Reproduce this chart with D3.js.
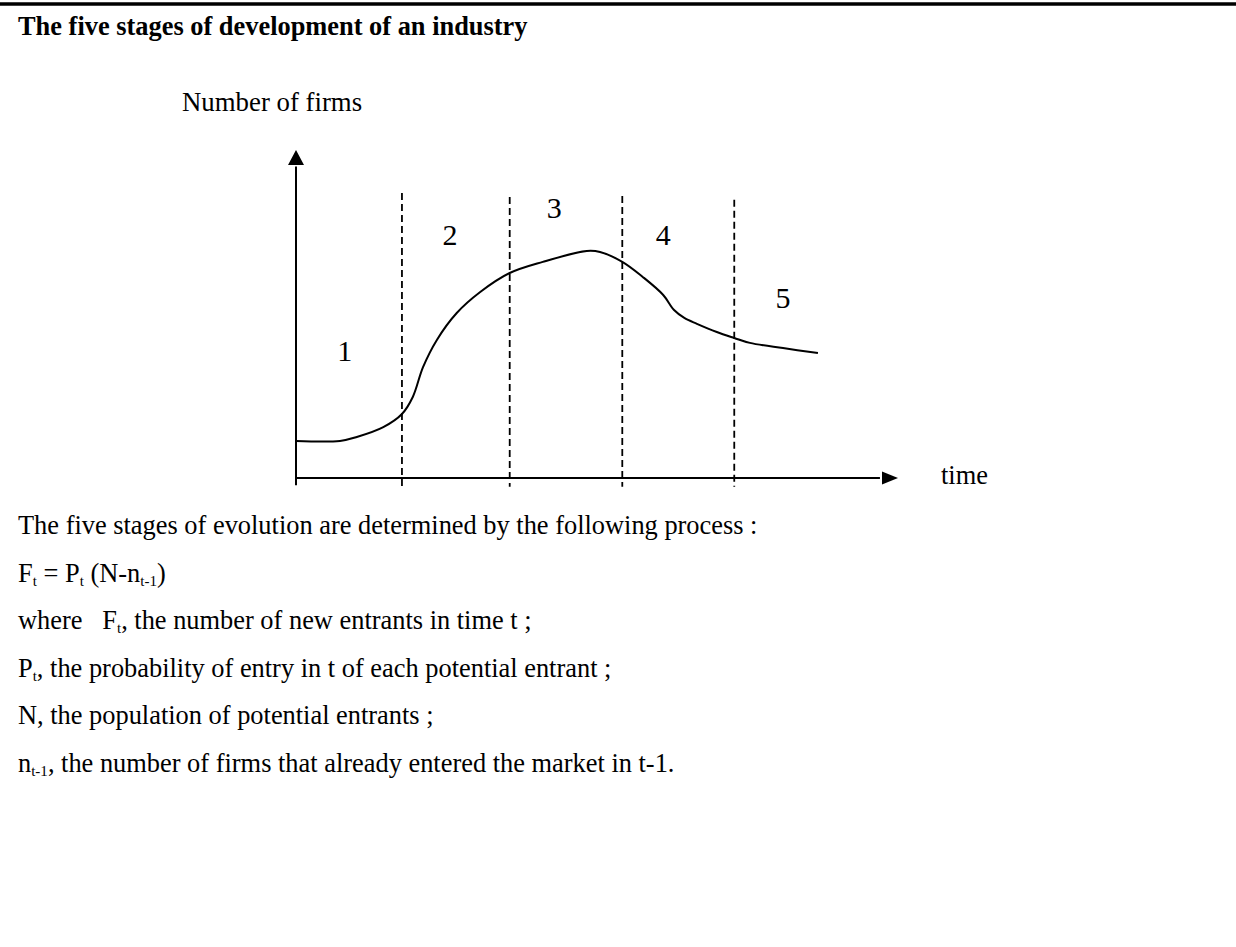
<!DOCTYPE html>
<html>
<head>
<meta charset="utf-8">
<script src="https://cdn.jsdelivr.net/npm/d3@7"></script>
<style>
  body { margin: 0; background: #fff; }
  svg { display: block; font-family: 'Liberation Serif', 'Times New Roman', serif; }
  text { white-space: pre; }
</style>
</head>
<body>
<div class="container"></div>
<script>
/* globals d3 */

// the curve: time (0-100) against number of firms (0-100)
var times = [0, 7.3, 10.1, 14.5, 17.6, 19.4, 21.1, 23.4, 26.7, 30.6, 35.5, 41.0, 48.3, 50.5,
  54.2, 57.6, 61.0, 62.8, 64.5, 66.6, 69.9, 72.8, 75.4, 80.9, 86.7]
var firms = [11.3, 11.3, 12.5, 15.5, 19.5, 24.7, 33.8, 42.1, 50.3, 56.7, 62.5, 65.9, 69.2, 68.9,
  65.9, 61.3, 55.8, 51.2, 48.8, 47.0, 44.5, 42.7, 41.2, 39.6, 38.1]

// borders between stages and the stage numbers
var stageBounds = [17.6, 35.5, 54.2, 72.8]
var boundTops = [86.9, 85.7, 86.0, 84.8]
var stageLabels = ['1', '2', '3', '4', '5']
var labelTimes = [8.1, 25.6, 42.9, 61.0, 80.9]
var labelFirms = [39.0, 74.1, 82.6, 74.1, 54.9]

var title = 'The five stages of development of an industry'
var yLabel = 'Number of firms'
var xLabel = 'time'

// _{..} marks a subscript
var bodyLines = [
  'The five stages of evolution are determined by the following process :',
  'F_{t} = P_{t} (N-n_{t-1})',
  'where   F_{t}, the number of new entrants in time t ;',
  'P_{t}, the probability of entry in t of each potential entrant ;',
  'N, the population of potential entrants ;',
  'n_{t-1}, the number of firms that already entered the market in t-1.'
]

var W = 1236
var H = 947

var svg = d3.select('.container')
            .append('svg')
            .attr('width', W)
            .attr('height', H)

svg.append('rect')
   .attr('width', W)
   .attr('height', H)
   .attr('fill', '#fff')

// heavy rule on top
svg.append('line')
   .attr('x1', 0)
   .attr('x2', W)
   .attr('y1', 4)
   .attr('y2', 4)
   .attr('stroke', '#000')
   .attr('stroke-width', 3.5)

svg.append('text')
   .attr('x', 18)
   .attr('y', 35)
   .attr('font-size', 26.4)
   .attr('font-weight', 'bold')
   .text(title)

var x = d3.scaleLinear().domain([0, 100]).range([296, 898])
var y = d3.scaleLinear().domain([0, 100]).range([478, 150])

var g = svg.append('g')

// axes with arrow heads
g.append('line')
 .attr('x1', x(0)).attr('x2', x(0))
 .attr('y1', y(-2.2)).attr('y2', y(95))
 .attr('stroke', '#000')
 .attr('stroke-width', 2)
g.append('path')
 .attr('d', 'M' + x(0) + ',' + y(100) + 'L' + (x(0) - 8) + ',' + y(95.4) + 'L' + (x(0) + 8) + ',' + y(95.4) + 'Z')
 .attr('fill', '#000')

g.append('line')
 .attr('x1', x(0)).attr('x2', x(97))
 .attr('y1', y(0)).attr('y2', y(0))
 .attr('stroke', '#000')
 .attr('stroke-width', 2)
g.append('path')
 .attr('d', 'M' + x(100) + ',' + y(0) + 'L' + (x(100) - 16) + ',' + (y(0) - 6.5) + 'L' + (x(100) - 16) + ',' + (y(0) + 6.5) + 'Z')
 .attr('fill', '#000')

// dashed stage borders
g.selectAll('.bound')
 .data(stageBounds)
 .enter()
 .append('line')
 .attr('class', 'bound')
 .attr('x1', function (d) { return x(d) })
 .attr('x2', function (d) { return x(d) })
 .attr('y1', function (d, i) { return y(boundTops[i]) })
 .attr('y2', y(-2.7))
 .attr('stroke', '#000')
 .attr('stroke-width', 1.8)
 .attr('stroke-dasharray', '7,4')

var points = times.map(function (t, i) { return [t, firms[i]] })
var valueline = d3.line()
                  .x(function (d) { return x(d[0]) })
                  .y(function (d) { return y(d[1]) })
                  .curve(d3.curveCatmullRom.alpha(0.5))

g.append('path')
 .attr('d', valueline(points))
 .attr('fill', 'none')
 .attr('stroke', '#000')
 .attr('stroke-width', 2)

g.selectAll('.stage')
 .data(stageLabels)
 .enter()
 .append('text')
 .attr('class', 'stage')
 .attr('x', function (d, i) { return x(labelTimes[i]) })
 .attr('y', function (d, i) { return y(labelFirms[i]) })
 .attr('text-anchor', 'middle')
 .attr('dominant-baseline', 'central')
 .attr('font-size', 30)
 .text(function (d) { return d })

svg.append('text')
   .attr('x', 182)
   .attr('y', 111)
   .attr('font-size', 26.8)
   .text(yLabel)

svg.append('text')
   .attr('x', 941)
   .attr('y', 484)
   .attr('font-size', 26.4)
   .text(xLabel)

// text under the chart
var baseY = 534
var step = 47.5

bodyLines.forEach(function (line, i) {
  var t = svg.append('text')
             .attr('x', 18)
             .attr('y', baseY + i * step)
             .attr('font-size', 26.4)
  var parts = line.split(/_\{([^}]*)\}/)
  var shift = 0
  parts.forEach(function (p, k) {
    if (p === '') return
    var sub = k % 2 === 1
    var dy = (sub ? 4 : 0) - shift
    shift = sub ? 4 : 0
    t.append('tspan')
     .attr('dy', dy)
     .attr('font-size', sub ? 15 : 26.4)
     .text(p)
  })
})
</script>
</body>
</html>
